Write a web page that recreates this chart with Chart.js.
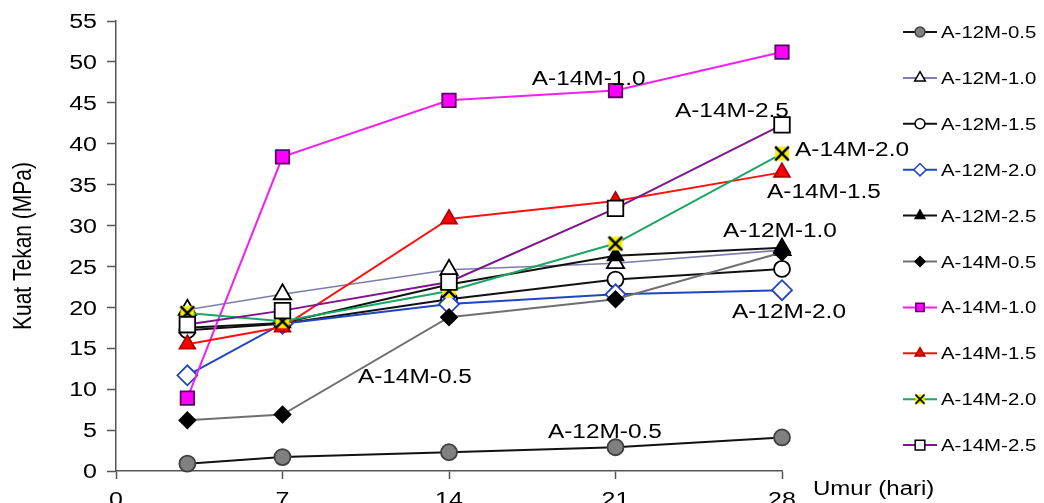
<!DOCTYPE html>
<html>
<head>
<meta charset="utf-8">
<script src="https://cdn.jsdelivr.net/npm/chart.js@4.4.1/dist/chart.umd.min.js"></script>
<style>
html, body { margin: 0; padding: 0; background: #fff; overflow: hidden; }
</style>
</head>
<body>
<canvas id="myChart" width="1044" height="503"></canvas>
<script>
// umur (hari) and kuat tekan (MPa) per mix
var umur = [3, 7, 14, 21, 28];
var seriesNames = ['A-12M-0.5', 'A-12M-1.0', 'A-12M-1.5', 'A-12M-2.0', 'A-12M-2.5',
                   'A-14M-0.5', 'A-14M-1.0', 'A-14M-1.5', 'A-14M-2.0', 'A-14M-2.5'];
var a12m05 = [0.9, 1.7, 2.3, 2.9, 4.1];
var a12m10 = [19.7, 21.6, 24.6, 25.4, 27.0];
var a12m15 = [17.2, 18.0, 21.0, 23.4, 24.7];
var a12m20 = [11.7, 18.0, 20.4, 21.6, 22.1];
var a12m25 = [17.5, 18.1, 22.8, 26.3, 27.3];
var a14m05 = [6.2, 6.9, 18.8, 21.0, 26.7];
var a14m10 = [8.9, 38.4, 45.3, 46.5, 51.2];
var a14m15 = [15.5, 17.6, 30.8, 33.0, 36.5];
var a14m20 = [19.3, 18.3, 22.0, 27.8, 38.8];
var a14m25 = [17.9, 19.6, 23.1, 32.1, 42.3];
var xMax = 28, xStep = 7;
var yMax = 55, yStep = 5;
var xTitle = 'Umur (hari)';
var yTitle = 'Kuat Tekan (MPa)';

var FONT = '"Liberation Sans", Arial, sans-serif';
var SX = 1.22; // text in the picture is a bit wider than Arial

function makeCross(size) {
    var c = document.createElement('canvas');
    c.width = size; c.height = size;
    var g = c.getContext('2d');
    var p = size * 0.12;
    g.fillStyle = '#f5f000';
    g.fillRect(p, p, size - 2 * p, size - 2 * p);
    g.strokeStyle = '#000';
    g.lineWidth = size / 7;
    g.beginPath();
    g.moveTo(p, p); g.lineTo(size - p, size - p);
    g.moveTo(size - p, p); g.lineTo(p, size - p);
    g.stroke();
    return c;
}
var crossBig = makeCross(18);
var crossSmall = makeCross(12);

function line(label, data, color, style, radius, fill, border, width) {
    return {
        label: label,
        data: umur.map(function (d, i) { return { x: d, y: data[i] }; }),
        borderColor: color,
        borderWidth: width || 2,
        pointStyle: style,
        pointRadius: radius,
        pointBackgroundColor: fill,
        pointBorderColor: border,
        pointBorderWidth: 1.8,
        fill: false,
        clip: false,
        tension: 0
    };
}

var datasets = [
    line(seriesNames[0], a12m05, '#111111', 'circle', 8, '#808080', '#404040'),
    line(seriesNames[1], a12m10, '#7d7dab', 'triangle', 10, '#ffffff', '#000000', 1.6),
    line(seriesNames[2], a12m15, '#111111', 'circle', 8, '#ffffff', '#000000'),
    line(seriesNames[3], a12m20, '#1f45c0', 'rectRot', 10, '#ffffff', '#1f45c0'),
    line(seriesNames[4], a12m25, '#111111', 'triangle', 9, '#000000', '#000000'),
    line(seriesNames[5], a14m05, '#707070', 'rectRot', 8, '#000000', '#000000'),
    line(seriesNames[6], a14m10, '#f020f0', 'rect', 9.5, '#ff00ff', '#600060'),
    line(seriesNames[7], a14m15, '#ff1010', 'triangle', 9, '#ff0000', '#b00000'),
    line(seriesNames[8], a14m20, '#1ea463', crossBig, 9, '#f5f000', '#000000'),
    line(seriesNames[9], a14m25, '#7e168a', 'rect', 11, '#ffffff', '#000000')
];
// later series sit on top, like the original
datasets.forEach(function (d, i) { d.order = -i; });

function stretchText(ctx, text, x, y, size, align, sx) {
    ctx.save();
    ctx.translate(x, y);
    ctx.scale(sx || SX, 1);
    ctx.font = size + 'px ' + FONT;
    ctx.fillStyle = '#000';
    ctx.textAlign = align || 'left';
    ctx.textBaseline = 'alphabetic';
    ctx.fillText(text, 0, 0);
    ctx.restore();
}

// labels beside the lines, in data coordinates (left edge, baseline)
var notes = [
    ['A-14M-1.0', 17.48, 47.2],
    ['A-14M-2.5', 23.5, 43.3],
    ['A-14M-2.0', 28.55, 38.5],
    ['A-14M-1.5', 27.37, 33.4],
    ['A-12M-1.0', 25.52, 28.6],
    ['A-12M-2.0', 25.9, 18.7],
    ['A-14M-0.5', 10.17, 10.75],
    ['A-12M-0.5', 18.16, 4.03]
];

var textPlugin = {
    id: 'texts',
    afterDraw: function (chart) {
        var ctx = chart.ctx;
        var xs = chart.scales.x, ys = chart.scales.y;
        // y tick labels
        ys.ticks.forEach(function (t) {
            stretchText(ctx, String(t.value), 97, ys.getPixelForValue(t.value) + 7.2, 20, 'right', 1.25);
        });
        // x tick labels (cut by the bottom edge)
        xs.ticks.forEach(function (t) {
            stretchText(ctx, String(t.value), xs.getPixelForValue(t.value), 506, 20, 'center', 1.25);
        });
        // axis titles
        stretchText(ctx, xTitle, 813, 495, 20, 'left', 1.2);
        ctx.save();
        ctx.translate(31, (chart.chartArea.top + chart.chartArea.bottom) / 2);
        ctx.scale(1.25, 1);
        ctx.rotate(-Math.PI / 2);
        ctx.font = '21px ' + FONT;
        ctx.fillStyle = '#000';
        ctx.textAlign = 'center';
        ctx.fillText(yTitle, 0, 0);
        ctx.restore();
        // labels next to the lines
        notes.forEach(function (n) {
            stretchText(ctx, n[0], xs.getPixelForValue(n[1]), ys.getPixelForValue(n[2]), 20, 'left');
        });
        // legend
        var helpers = Chart.helpers;
        chart.data.datasets.forEach(function (d, i) {
            var y = 32 + i * 45.9;
            ctx.save();
            ctx.strokeStyle = d.borderColor;
            ctx.lineWidth = 2;
            ctx.beginPath();
            ctx.moveTo(903, y); ctx.lineTo(937, y);
            ctx.stroke();
            ctx.fillStyle = d.pointBackgroundColor;
            ctx.strokeStyle = d.pointBorderColor;
            ctx.lineWidth = 1.5;
            var style = d.pointStyle === crossBig ? crossSmall : d.pointStyle;
            helpers.drawPoint(ctx, { pointStyle: style, radius: d.pointRadius * 0.62, rotation: 0, borderWidth: 1.5 }, 920, y);
            ctx.restore();
            stretchText(ctx, d.label, 941, y + 6, 17, 'left', 1.2);
        });
    }
};

new Chart('myChart', {
    type: 'line',
    data: { datasets: datasets },
    options: {
        responsive: false,
        animation: false,
        layout: { padding: { left: 0, right: 262, top: 21, bottom: 0 } },
        plugins: { legend: { display: false }, title: { display: false }, tooltip: { enabled: false } },
        scales: {
            x: {
                type: 'linear',
                min: 0,
                max: xMax,
                ticks: { stepSize: xStep, display: false },
                grid: { display: true, drawOnChartArea: false, drawTicks: true, tickLength: 8, tickColor: '#555', tickWidth: 1.5 },
                border: { display: true, color: '#555', width: 1.5 },
                afterFit: function (s) { s.height = 503 - 471; }
            },
            y: {
                min: 0,
                max: yMax,
                ticks: { stepSize: yStep, display: false },
                grid: { display: true, drawOnChartArea: false, drawTicks: true, tickLength: 9, tickColor: '#555', tickWidth: 1.5 },
                border: { display: true, color: '#555', width: 1.5 },
                afterFit: function (s) { s.width = 116; }
            }
        }
    },
    plugins: [textPlugin]
});
</script>
</body>
</html>
